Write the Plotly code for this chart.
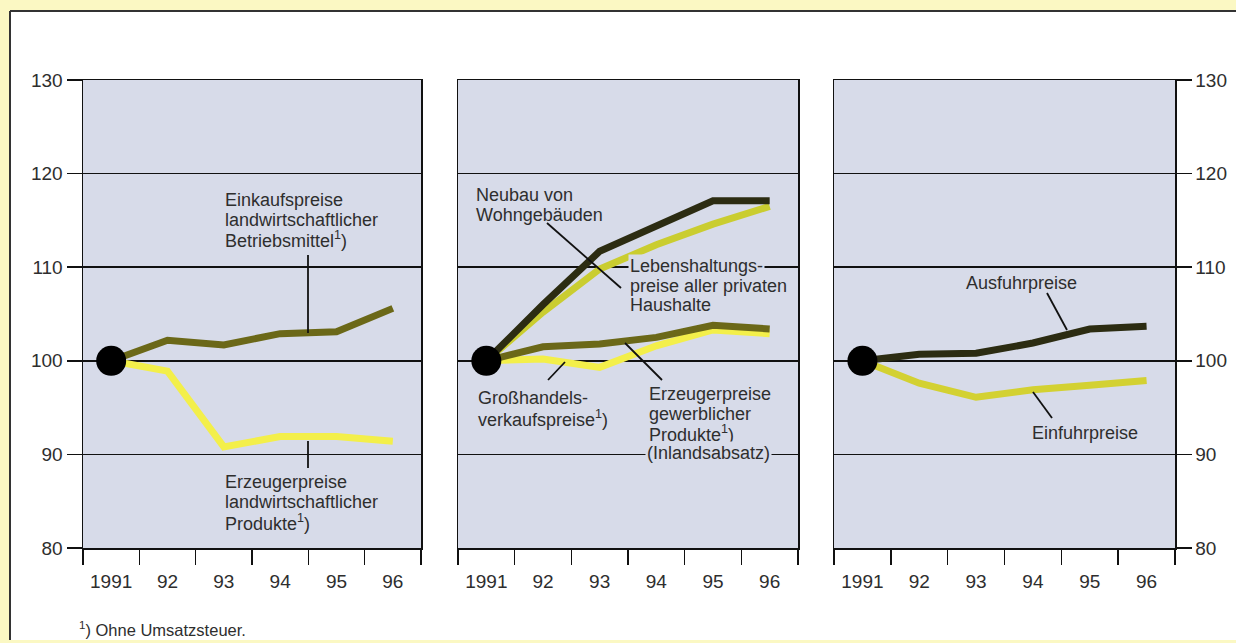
import plotly.graph_objects as go

W, H = 1236, 643

years = ["1991", "92", "93", "94", "95", "96"]
xpos = [0, 1, 2, 3, 4, 5]

# Panel 1
einkauf_ldw = [100, 102.2, 101.7, 102.9, 103.1, 105.6]
erzeuger_ldw = [100, 98.9, 90.8, 91.9, 91.9, 91.4]
# Panel 2
neubau = [100, 106.0, 111.7, 114.4, 117.1, 117.1]
lebenshaltung = [100, 105.2, 109.8, 112.4, 114.6, 116.5]
erzeuger_gew = [100, 101.5, 101.8, 102.5, 103.8, 103.4]
grosshandel = [100, 100.2, 99.3, 101.6, 103.3, 102.9]
# Panel 3
ausfuhr = [100, 100.7, 100.8, 101.9, 103.4, 103.7]
einfuhr = [100, 97.6, 96.1, 96.9, 97.4, 97.9]

yticks = [80, 90, 100, 110, 120, 130]

C_DARK = "#2c2c12"
C_OLIVE = "#6b6818"
C_YELLOW = "#f3ef4a"
C_GYELLOW = "#cacd30"
C_EINF = "#d3d132"
FONT = "Liberation Sans, Arial, sans-serif"
TXT = "#2e2e2e"
BG = "#d7dbe9"
OUTER = "#fbf8c3"


def px(x):
    return x / W


def py(y):
    return 1 - y / H


fig = go.Figure()


def add_line(vals, color, n):
    xa = "x" if n == 1 else f"x{n}"
    ya = "y" if n == 1 else f"y{n}"
    fig.add_trace(go.Scatter(x=xpos, y=vals, mode="lines",
                             line=dict(color=color, width=7),
                             xaxis=xa, yaxis=ya, showlegend=False,
                             hoverinfo="skip"))


def add_dot(vals, n):
    xa = "x" if n == 1 else f"x{n}"
    ya = "y" if n == 1 else f"y{n}"
    fig.add_trace(go.Scatter(x=xpos[:1], y=vals[:1], mode="markers",
                             marker=dict(color="#000000", size=30),
                             xaxis=xa, yaxis=ya, showlegend=False,
                             hoverinfo="skip"))


add_line(erzeuger_ldw, C_YELLOW, 1)
add_line(einkauf_ldw, C_OLIVE, 1)
add_dot(einkauf_ldw, 1)

add_line(lebenshaltung, C_GYELLOW, 2)
add_line(neubau, C_DARK, 2)
add_line(grosshandel, C_YELLOW, 2)
add_line(erzeuger_gew, C_OLIVE, 2)
add_dot(neubau, 2)

add_line(einfuhr, C_EINF, 3)
add_line(ausfuhr, C_DARK, 3)
add_dot(ausfuhr, 3)

ydom = [py(548), py(80)]
xdoms = [[px(83), px(421)], [px(458), px(798)], [px(834), px(1175)]]

for i in range(3):
    sfx = "" if i == 0 else str(i + 1)
    fig.layout["xaxis" + sfx] = dict(
        domain=xdoms[i], range=[-0.5, 5.5], anchor="y" + sfx,
        tickmode="array", tickvals=xpos, ticktext=years,
        ticks="outside", ticklen=16, tickcolor="rgba(0,0,0,0)",
        minor=dict(tickmode="linear", tick0=-0.5, dtick=1, ticks="outside",
                   ticklen=15, tickcolor="#111", tickwidth=1.5, showgrid=False),
        showgrid=False, zeroline=False, showline=True, mirror=True,
        linecolor="#111", linewidth=1.5,
        tickfont=dict(family=FONT, size=19, color=TXT),
        fixedrange=True)
    fig.layout["yaxis" + sfx] = dict(
        domain=ydom, range=[80, 130], anchor="x" + sfx,
        tickmode="array", tickvals=yticks,
        ticks="outside" if i != 1 else "", ticklen=15, tickcolor="#111",
        tickwidth=1.5,
        showticklabels=(i != 1), side="right" if i == 2 else "left",
        showgrid=True, gridcolor="#111", gridwidth=1.5,
        zeroline=False, showline=True, mirror=True,
        linecolor="#111", linewidth=1.5,
        tickfont=dict(family=FONT, size=19, color=TXT),
        fixedrange=True)

shapes = []
# yellow outer strips around the white panel
shapes.append(dict(type="rect", xref="paper", yref="paper", x0=0, x1=1,
                   y0=py(11), y1=1, fillcolor=OUTER, line=dict(width=0),
                   layer="below"))
shapes.append(dict(type="rect", xref="paper", yref="paper", x0=0, x1=px(10),
                   y0=0, y1=1, fillcolor=OUTER, line=dict(width=0),
                   layer="below"))
shapes.append(dict(type="rect", xref="paper", yref="paper", x0=0, x1=1,
                   y0=0, y1=py(640), fillcolor=OUTER, line=dict(width=0),
                   layer="below"))
shapes.append(dict(type="line", xref="paper", yref="paper", x0=px(10), x1=1,
                   y0=py(11), y1=py(11), line=dict(color="#333", width=2)))
shapes.append(dict(type="line", xref="paper", yref="paper", x0=px(10), x1=px(10),
                   y0=py(640), y1=py(11), line=dict(color="#333", width=2)))


def leader(x0, y0, x1, y1):
    shapes.append(dict(type="line", xref="paper", yref="paper",
                       x0=px(x0), y0=py(y0), x1=px(x1), y1=py(y1),
                       line=dict(color="#111", width=1.8)))


leader(308, 255, 308, 333)
leader(308, 441, 308, 468)
leader(547, 223, 621, 288)
leader(548, 380, 565, 362)
leader(625, 343, 662, 380)
leader(1047, 293, 1067, 330)
leader(1033, 392, 1052, 418)

annots = []


def label(lines, x, y0, pitch=20, bg_first=None):
    for k, t in enumerate(lines):
        d = dict(text=t, xref="paper", yref="paper", x=px(x), y=py(y0 + k * pitch),
                 xanchor="left", yanchor="middle", align="left", showarrow=False,
                 font=dict(family=FONT, size=18, color=TXT), borderpad=1)
        if bg_first and k == 0:
            d["bgcolor"] = bg_first
        annots.append(d)


label(["Einkaufspreise", "landwirtschaftlicher", "Betriebsmittel<sup>1</sup>)"], 223, 200)
label(["Erzeugerpreise", "landwirtschaftlicher", "Produkte<sup>1</sup>)"], 223, 482)
label(["Neubau von", "Wohngebäuden"], 474, 195)
label(["Lebenshaltungs-", "preise aller privaten", "Haushalte"], 628, 266, pitch=19.5,
      bg_first=BG)
label(["Großhandels-", "verkaufspreise<sup>1</sup>)"], 476, 398)
label(["Erzeugerpreise", "gewerblicher", "Produkte<sup>1</sup>)"], 647, 394, pitch=19.5)
label(["(Inlandsabsatz)"], 645, 453, bg_first=BG)
label(["Ausfuhrpreise"], 964, 283)
label(["Einfuhrpreise"], 1030, 433)

annots.append(dict(text="<sup>1</sup>) Ohne Umsatzsteuer.", xref="paper", yref="paper",
                   x=px(77), y=py(629), xanchor="left", yanchor="middle",
                   showarrow=False, font=dict(family=FONT, size=16.5, color=TXT)))

fig.update_layout(width=W, height=H,
                  margin=dict(l=0, r=0, t=0, b=0, pad=0, autoexpand=False),
                  paper_bgcolor="white", plot_bgcolor=BG,
                  shapes=shapes, annotations=annots, showlegend=False)

fig.write_html("out.html",
               config={"displayModeBar": False, "staticPlot": True},
               post_script="document.body.style.margin='0';"
                           "document.body.style.overflow='hidden';")
